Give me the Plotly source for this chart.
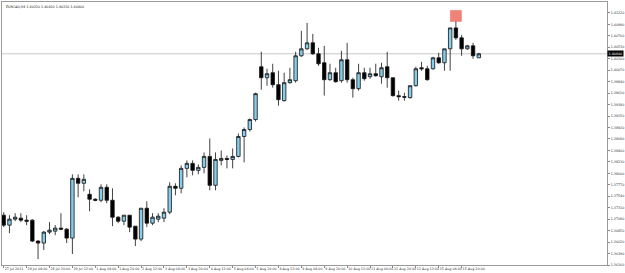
import plotly.graph_objects as go

symbol = "EURCAD,H4"

opens = [1.3716, 1.3696, 1.3708, 1.3710, 1.3706, 1.3706, 1.3664, 1.3660, 1.3682, 1.3684,
         1.3690, 1.3688, 1.3670, 1.3790, 1.3780, 1.3758, 1.3748, 1.3746, 1.3772, 1.3746,
         1.3712, 1.3704, 1.3716, 1.3694, 1.3668, 1.3730, 1.3700, 1.3708, 1.3710, 1.3722,
         1.3774, 1.3770, 1.3810, 1.3820, 1.3806, 1.3812, 1.3834, 1.3776, 1.3826, 1.3830,
         1.3828, 1.3834, 1.3874, 1.3888, 1.3908, 1.4014, 1.3992, 1.4002, 1.3978, 1.3946,
         1.3982, 1.3986, 1.4036, 1.4050, 1.4062, 1.4040, 1.4022, 1.3988, 1.4002, 1.3986,
         1.4028, 1.3988, 1.3970, 1.4002, 1.3994, 1.4000, 1.3994, 1.4014, 1.3992, 1.3956,
         1.3954, 1.3952, 1.3976, 1.4012, 1.4010, 1.4010, 1.4032, 1.4022, 1.4050, 1.4092,
         1.4072, 1.4050, 1.4056, 1.4032]
highs = [1.3722, 1.3716, 1.3720, 1.3720, 1.3716, 1.3708, 1.3666, 1.3684, 1.3702, 1.3696,
         1.3720, 1.3690, 1.3798, 1.3798, 1.3798, 1.3768, 1.3750, 1.3778, 1.3778, 1.3770,
         1.3714, 1.3716, 1.3716, 1.3694, 1.3730, 1.3744, 1.3720, 1.3720, 1.3730, 1.3782,
         1.3780, 1.3816, 1.3826, 1.3826, 1.3818, 1.3842, 1.3870, 1.3842, 1.3846, 1.3836,
         1.3850, 1.3880, 1.3892, 1.3910, 1.3962, 1.4044, 1.4010, 1.4020, 1.4006, 1.4002,
         1.4012, 1.4044, 1.4086, 1.4102, 1.4080, 1.4052, 1.4056, 1.4020, 1.4012, 1.4046,
         1.4062, 1.3992, 1.4020, 1.4012, 1.4012, 1.4020, 1.4022, 1.4044, 1.3992, 1.3966,
         1.3962, 1.3976, 1.4014, 1.4024, 1.4016, 1.4034, 1.4042, 1.4050, 1.4092, 1.4106,
         1.4078, 1.4058, 1.4062, 1.4042]
lows = [1.3692, 1.3680, 1.3704, 1.3702, 1.3696, 1.3662, 1.3628, 1.3646, 1.3678, 1.3676,
        1.3686, 1.3660, 1.3638, 1.3752, 1.3764, 1.3724, 1.3744, 1.3742, 1.3740, 1.3694,
        1.3700, 1.3696, 1.3682, 1.3654, 1.3664, 1.3692, 1.3696, 1.3702, 1.3702, 1.3718,
        1.3756, 1.3760, 1.3792, 1.3796, 1.3798, 1.3800, 1.3766, 1.3766, 1.3816, 1.3810,
        1.3810, 1.3832, 1.3822, 1.3884, 1.3904, 1.3968, 1.3976, 1.3972, 1.3936, 1.3944,
        1.3980, 1.3982, 1.4034, 1.4048, 1.4038, 1.4016, 1.3956, 1.3986, 1.3982, 1.3982,
        1.3982, 1.3952, 1.3966, 1.3986, 1.3990, 1.3994, 1.3980, 1.3972, 1.3954, 1.3946,
        1.3946, 1.3950, 1.3974, 1.4006, 1.3986, 1.4008, 1.4020, 1.4006, 1.4006, 1.4068,
        1.4036, 1.4048, 1.4030, 1.4032]
closes = [1.3696, 1.3708, 1.3712, 1.3706, 1.3704, 1.3664, 1.3660, 1.3682, 1.3686, 1.3690,
          1.3688, 1.3670, 1.3790, 1.3780, 1.3788, 1.3748, 1.3746, 1.3772, 1.3746, 1.3712,
          1.3704, 1.3716, 1.3692, 1.3668, 1.3730, 1.3700, 1.3712, 1.3714, 1.3722, 1.3774,
          1.3770, 1.3810, 1.3820, 1.3806, 1.3812, 1.3834, 1.3776, 1.3828, 1.3830, 1.3828,
          1.3834, 1.3874, 1.3888, 1.3908, 1.3960, 1.3992, 1.4000, 1.3978, 1.3948, 1.3982,
          1.3988, 1.4036, 1.4050, 1.4062, 1.4040, 1.4020, 1.3988, 1.4002, 1.3984, 1.4028,
          1.3988, 1.3970, 1.4002, 1.3990, 1.4000, 1.3996, 1.4012, 1.3992, 1.3956, 1.3954,
          1.3953, 1.3976, 1.4010, 1.4010, 1.3988, 1.4032, 1.4022, 1.4050, 1.4092, 1.4072,
          1.4050, 1.4056, 1.4036, 1.4040]

x_labels = ["27 Jul 2011", "28 Jul 04:00", "28 Jul 20:00", "29 Jul 12:00", "1 Aug 04:00",
            "1 Aug 20:00", "2 Aug 12:00", "3 Aug 04:00", "3 Aug 20:00", "4 Aug 12:00",
            "5 Aug 04:00", "5 Aug 20:00", "8 Aug 12:00", "9 Aug 04:00", "9 Aug 20:00",
            "10 Aug 12:00", "11 Aug 04:00", "11 Aug 20:00", "12 Aug 12:00", "15 Aug 04:00",
            "15 Aug 20:00"]
label_every = 4

y_ticks = [1.41220 - 0.00230 * k for k in range(23)]
y_min, y_max = 1.36160, 1.41440

marker_bar = 79
marker_price = 1.4116

n = len(opens)
xs = list(range(n))
last_price = closes[-1]

fig = go.Figure()
fig.add_trace(go.Candlestick(
    x=xs, open=opens, high=highs, low=lows, close=closes,
    increasing=dict(fillcolor="#87CEEB", line=dict(color="#111111", width=0.8)),
    decreasing=dict(fillcolor="#000000", line=dict(color="#111111", width=0.8)),
    whiskerwidth=0, showlegend=False, hoverinfo="skip",
))
fig.add_trace(go.Scatter(
    x=[marker_bar], y=[marker_price], mode="markers",
    marker=dict(symbol="square", size=11, color="#EF8279",
                line=dict(color="#E26A61", width=0.5)),
    showlegend=False, hoverinfo="skip",
))

fig.add_shape(type="line", xref="paper", x0=0, x1=1, yref="y", y0=last_price, y1=last_price,
              line=dict(color="#C8C8C8", width=1), layer="below")

fig.add_annotation(xref="paper", yref="y", x=1.0, y=last_price, xanchor="left", yanchor="middle",
                   text=f"{last_price:.5f}", showarrow=False, bgcolor="#000000",
                   font=dict(size=3.3, color="#FFFFFF", family="DejaVu Sans"), borderpad=0.5)

fig.add_annotation(xref="paper", yref="paper", x=0.004, y=0.995, xanchor="left", yanchor="top",
                   text=f"{symbol} {opens[-1]:.5f} {highs[-1]:.5f} {lows[-1]:.5f} {closes[-1]:.5f}",
                   showarrow=False, font=dict(size=3.3, color="#222222", family="DejaVu Sans"))

fig.update_layout(
    width=625, height=273,
    margin=dict(l=1, r=15, t=1, b=8),
    paper_bgcolor="white", plot_bgcolor="white",
    boxgap=0.4, boxgroupgap=0,
    font=dict(family="DejaVu Sans", size=3.3, color="#333333"),
    xaxis=dict(
        range=[-0.3, 105.4], rangeslider=dict(visible=False),
        tickvals=[i * label_every for i in range(len(x_labels))], ticktext=x_labels,
        tickangle=0,
        ticks="outside", ticklen=2, tickcolor="#888888", tickwidth=1,
        ticklabelposition="outside right",
        showline=True, linecolor="#9A9A9A", linewidth=1, mirror=True,
        showgrid=False, zeroline=False, tickfont=dict(size=3.3, color="#333333"),
    ),
    yaxis=dict(
        side="right", range=[y_min, y_max],
        tickvals=y_ticks, ticktext=[f"{v:.5f}" for v in y_ticks],
        ticks="outside", ticklen=2, tickcolor="#888888", tickwidth=1,
        showline=True, linecolor="#9A9A9A", linewidth=1, mirror=True,
        showgrid=False, zeroline=False, tickfont=dict(size=3.3, color="#333333"),
    ),
)

fig.write_html("out.html")
